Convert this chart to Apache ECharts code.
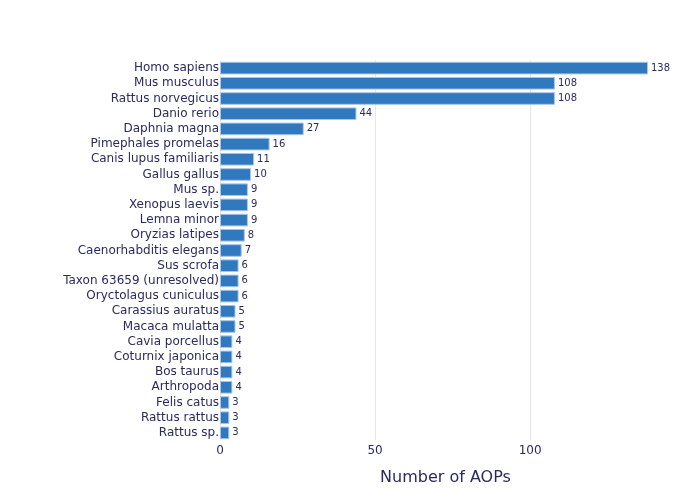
<!DOCTYPE html>
<html>
<head>
    <meta charset="utf-8">
    <title>AOPs by species</title>
    <script src="https://cdn.jsdelivr.net/npm/echarts@6/dist/echarts.min.js"></script>
    <style>
        html, body { margin: 0; padding: 0; background: #fff; }
        #chart-box { width: 700px; height: 500px; }
    </style>
</head>
<body>
<div id="chart-box"></div>
<script type="text/javascript">
    const species = [
        "Homo sapiens", "Mus musculus", "Rattus norvegicus", "Danio rerio",
        "Daphnia magna", "Pimephales promelas", "Canis lupus familiaris",
        "Gallus gallus", "Mus sp.", "Xenopus laevis", "Lemna minor",
        "Oryzias latipes", "Caenorhabditis elegans", "Sus scrofa",
        "Taxon 63659 (unresolved)", "Oryctolagus cuniculus", "Carassius auratus",
        "Macaca mulatta", "Cavia porcellus", "Coturnix japonica", "Bos taurus",
        "Arthropoda", "Felis catus", "Rattus rattus", "Rattus sp."
    ];
    const aopCounts = [138, 108, 108, 44, 27, 16, 11, 10, 9, 9, 9, 8, 7, 6, 6, 6, 5, 5, 4, 4, 4, 4, 3, 3, 3];
    const xTicks = [0, 50, 100];

    const textColor = "#2a2a5f";
    const gridColor = "#e6e6e6";
    const chart = echarts.init(document.getElementById("chart-box"));

    const option = {
        animation: false,
        textStyle: { fontFamily: "DejaVu Sans" },
        grid: { left: 220, right: 21, top: 60.5, bottom: 59.5, containLabel: false },
        xAxis: {
            type: "value",
            min: 0,
            max: 148,
            interval: 50,
            name: "Number of AOPs",
            nameLocation: "middle",
            nameGap: 29,
            nameTextStyle: { color: textColor, fontSize: 16, fontFamily: "DejaVu Sans", padding: [0, 8, 0, 0] },
            axisLine: { show: false },
            axisTick: { show: false },
            axisLabel: {
                color: textColor, fontSize: 12, margin: 4,
                formatter: v => xTicks.includes(v) ? String(v) : ""
            },
            // last line sits at the axis max, not a tick: hide it
            splitLine: { lineStyle: { color: [gridColor, gridColor, gridColor, "rgba(0,0,0,0)"], width: 1 } }
        },
        yAxis: {
            type: "category",
            inverse: true,
            data: species,
            axisLine: { show: false },
            axisTick: { show: false },
            axisLabel: { color: textColor, fontSize: 12, margin: 1, interval: 0 }
        },
        series: [{
            type: "bar",
            data: aopCounts,
            barCategoryGap: "17%",
            itemStyle: { color: "#3079bf", borderColor: "#a9c6e6", borderWidth: 1 },
            label: {
                show: true,
                position: "right",
                distance: 3,
                color: textColor,
                fontSize: 10
            }
        }]
    };
    chart.setOption(option);
</script>
</body>
</html>
